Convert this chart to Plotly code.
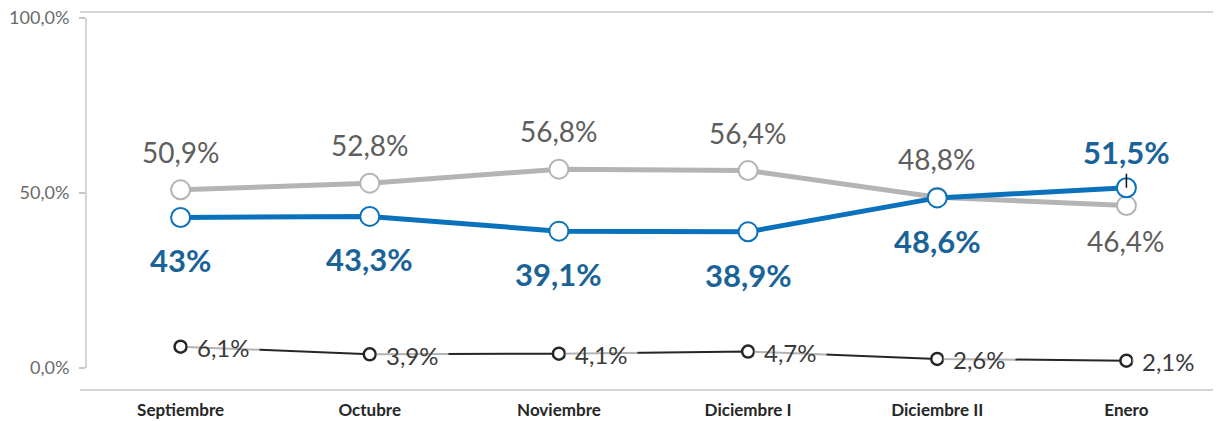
import plotly.graph_objects as go

categories = ["Septiembre", "Octubre", "Noviembre", "Diciembre I", "Diciembre II", "Enero"]
gray_vals = [50.9, 52.8, 56.8, 56.4, 48.8, 46.4]
blue_vals = [43.0, 43.3, 39.1, 38.9, 48.6, 51.5]
black_vals = [6.1, 3.9, 4.1, 4.7, 2.6, 2.1]
gray_labels = ["50,9%", "52,8%", "56,8%", "56,4%", "48,8%", "46,4%"]
blue_labels = ["43%", "43,3%", "39,1%", "38,9%", "48,6%", "51,5%"]
black_labels = ["6,1%", "3,9%", "4,1%", "4,7%", "2,6%", "2,1%"]
gray_pos = ["above", "above", "above", "above", "above", "below"]
blue_pos = ["below", "below", "below", "below", "below", "above"]
y_ticks = [0, 50, 100]
y_ticktext = ["0,0%", "50,0%", "100,0%"]

FONT = "Lato, 'Open Sans', sans-serif"
GRAY_LINE = "#B4B4B4"
BLUE_LINE = "#0A72BC"
BLUE_TEXT = "#1A6398"
GRAY_TEXT = "#5E5E5E"
AXIS = "#C6C6C6"

fig = go.Figure()
fig.add_trace(go.Scatter(
    x=categories, y=black_vals, mode="lines",
    line=dict(color="#262626", width=2),
    hoverinfo="skip", showlegend=False))
fig.add_trace(go.Scatter(
    x=categories, y=gray_vals, mode="lines+markers",
    line=dict(color=GRAY_LINE, width=5),
    marker=dict(size=19, color="white", line=dict(color=GRAY_LINE, width=2)),
    hoverinfo="skip", showlegend=False))
fig.add_trace(go.Scatter(
    x=categories, y=blue_vals, mode="lines+markers",
    line=dict(color=BLUE_LINE, width=5),
    marker=dict(size=19, color="white", line=dict(color=BLUE_LINE, width=2)),
    hoverinfo="skip", showlegend=False))
# small black tick above the last blue point
fig.add_trace(go.Scatter(
    x=[categories[-1]], y=[blue_vals[-1]], mode="none",
    error_y=dict(type="constant", value=4, symmetric=False, valueminus=0,
                 color="#111111", thickness=1.5, width=0),
    hoverinfo="skip", showlegend=False))

annotations = []
for c, v, t, p in zip(categories, gray_vals, gray_labels, gray_pos):
    annotations.append(dict(x=c, y=v, text=t, showarrow=False,
                            yshift=38 if p == "above" else -35,
                            font=dict(family=FONT, size=28, color=GRAY_TEXT)))
for c, v, t, p in zip(categories, blue_vals, blue_labels, blue_pos):
    annotations.append(dict(x=c, y=v, text="<b>%s</b>" % t, showarrow=False,
                            yshift=-43 if p == "below" else 36,
                            font=dict(family=FONT, size=31, color=BLUE_TEXT)))
for c, v, t in zip(categories, black_vals, black_labels):
    annotations.append(dict(x=c, y=v, text=t, showarrow=False, xanchor="left",
                            xshift=6, yshift=-1, borderpad=9,
                            bgcolor="rgba(255,255,255,0.65)",
                            font=dict(family=FONT, size=24, color="#3A3A3A")))

shapes = [
    dict(type="line", xref="paper", yref="y", x0=0, x1=0, y0=0, y1=100,
         line=dict(color=AXIS, width=1.5)),
    dict(type="line", xref="paper", yref="paper", x0=-0.0053, x1=1, y0=1, y1=1,
         line=dict(color=AXIS, width=1.5)),
    dict(type="line", xref="paper", yref="paper", x0=-0.0053, x1=1, y0=0, y1=0,
         line=dict(color=AXIS, width=1.5)),
]

# black markers drawn on top of the label boxes
fig.add_trace(go.Scatter(
    x=categories, y=black_vals, mode="markers",
    marker=dict(size=12, color="white", line=dict(color="#262626", width=2.5)),
    hoverinfo="skip", showlegend=False))

fig.update_layout(
    width=1213, height=413,
    margin=dict(l=78, r=0, t=4, b=31),
    paper_bgcolor="white", plot_bgcolor="white",
    font=dict(family=FONT),
    annotations=annotations, shapes=shapes,
    xaxis=dict(range=[-0.5, 5.5], showgrid=False, zeroline=False, showline=False,
               automargin=False,
               ticks="outside", ticklen=5, tickcolor="rgba(0,0,0,0)",
               tickfont=dict(family=FONT, size=17, color="#262626", weight="bold")),
    yaxis=dict(range=[-6.29, 101.71], showgrid=False, zeroline=False, showline=False,
               automargin=False, ticklabeloverflow="allow",
               tickvals=y_ticks, ticktext=y_ticktext,
               ticks="outside", ticklen=6, tickcolor=AXIS, tickwidth=1.5,
               ticklabelstandoff=6,
               tickfont=dict(family=FONT, size=18, color="#6A6A6A")),
)

fig.write_html("out.html")
